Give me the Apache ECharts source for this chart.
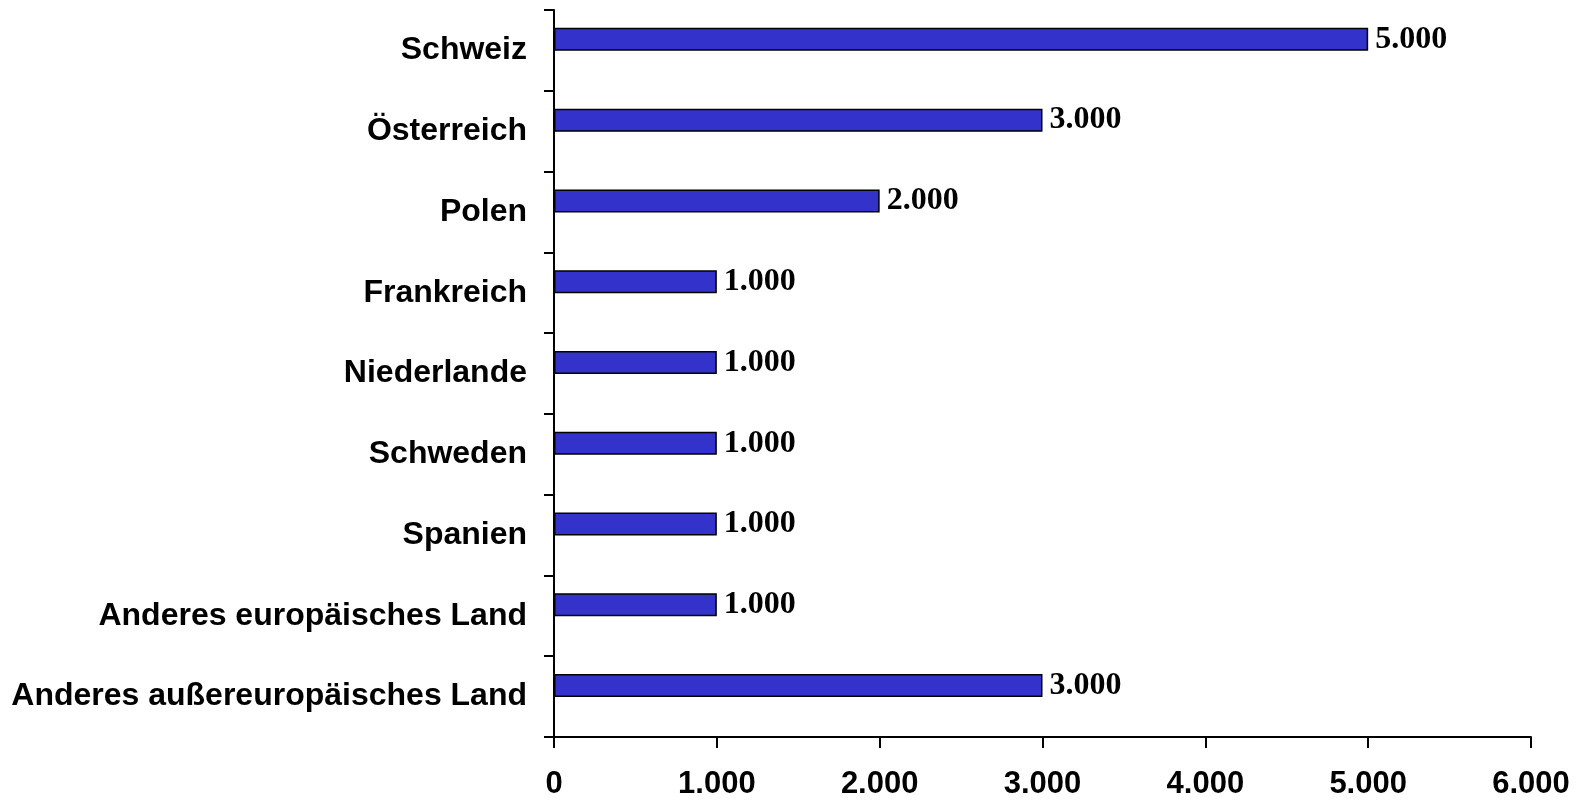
<!DOCTYPE html>
<html><head><meta charset="utf-8">
<script src="https://cdn.jsdelivr.net/npm/echarts@6/dist/echarts.min.js"></script>
<style>html,body{margin:0;padding:0;background:#fff}#c{width:1584px;height:800px}</style>
</head><body><div id="c"></div>
<script>
const categories = ["Schweiz","Österreich","Polen","Frankreich","Niederlande","Schweden","Spanien","Anderes europäisches Land","Anderes außereuropäisches Land"];
const values = [5000,3000,2000,1000,1000,1000,1000,1000,3000];
const xTicks = [0,1000,2000,3000,4000,5000,6000];
function fmt(v){return String(v).replace(/\B(?=(\d{3})+(?!\d))/g,'.');}
const chart = echarts.init(document.getElementById('c'));
chart.setOption({
  animation:false,
  grid:{left:554,right:53,top:10,bottom:63,containLabel:false},
  xAxis:{type:'value',min:xTicks[0],max:xTicks[xTicks.length-1],interval:1000,
    axisLine:{show:true,lineStyle:{color:'#000',width:2}},
    axisTick:{show:true,length:11,lineStyle:{color:'#000',width:2}},
    splitLine:{show:false},
    axisLabel:{formatter:fmt,color:'#000',fontFamily:'Liberation Sans',fontWeight:'bold',fontSize:31,margin:32}},
  yAxis:{type:'category',data:categories,inverse:true,
    axisLine:{show:true,lineStyle:{color:'#000',width:2}},
    axisTick:{show:true,length:10,lineStyle:{color:'#000',width:2}},
    axisLabel:{color:'#000',fontFamily:'Liberation Sans',fontWeight:'bold',fontSize:32,margin:27}},
  series:[{type:'bar',data:values,barWidth:23,barGap:'-4%',
    itemStyle:{color:'#3333CC',borderColor:'#000',borderWidth:1.5},
    label:{show:true,position:'right',distance:7,formatter:p=>fmt(p.value),color:'#000',fontFamily:'Liberation Serif',fontWeight:'bold',fontSize:32}},
    {type:'bar',data:categories.map(()=>'-'),barWidth:23,barGap:'-4%',silent:true,itemStyle:{opacity:0}}]
});
</script></body></html>
